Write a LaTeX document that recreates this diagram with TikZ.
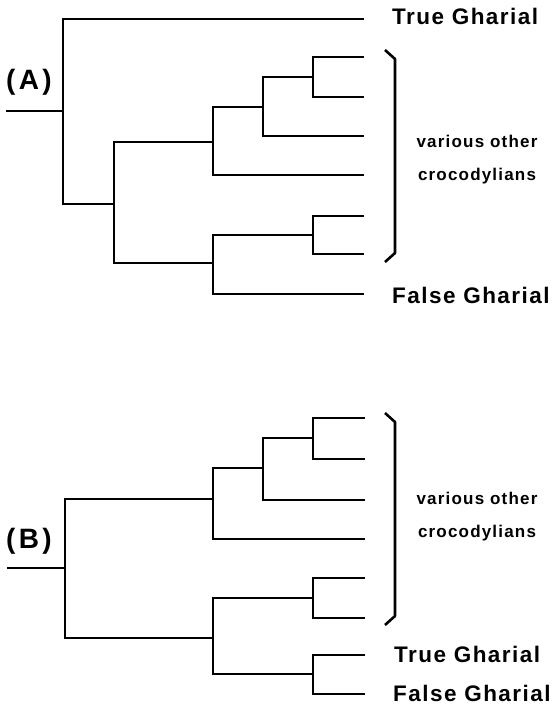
\documentclass[tikz,border=0pt]{standalone}
\usepackage{fontspec}
\setmainfont{Liberation Sans}
\newfontfamily\bigf{Liberation Sans Bold}[LetterSpace=6.5]
\newfontfamily\hugef{Liberation Sans Bold}[LetterSpace=12]
\newfontfamily\smallspaced{Liberation Sans Bold}[LetterSpace=7]
\begin{document}
\begin{tikzpicture}[x=1pt,y=-1pt,
  br/.style={line width=2.5pt, line join=miter},
  brk/.style={line width=2.6pt, line join=round},
  big/.style={inner sep=0pt, font=\bigf\fontsize{22.5}{24}\selectfont},
  small/.style={inner sep=0pt, font=\smallspaced\fontsize{17}{20}\selectfont},
  huge/.style={inner sep=0pt, font=\hugef\fontsize{28}{32}\selectfont}]
\useasboundingbox (0,0) rectangle (552,706);
% ---------- Tree A ----------
\coordinate (rA0) at (6,111);
\coordinate (rA) at (63,111);
\coordinate (aTG) at (364,19);
\coordinate (nA1) at (114,204);
\coordinate (nA2) at (213,142);
\coordinate (nA3) at (263,107);
\coordinate (nA4) at (313,77);
\coordinate (aL1) at (364,57);
\coordinate (aL2) at (364,97);
\coordinate (aL3) at (364,136);
\coordinate (aL4) at (364,175);
\coordinate (nA5) at (213,263);
\coordinate (nA6) at (313,235);
\coordinate (aL5) at (364,216);
\coordinate (aL6) at (364,254);
\coordinate (aFG) at (364,294);
\draw[br] (rA0) -- (rA);
\draw[br] (aTG) -| (rA) |- (nA1);
\draw[br] (nA2) -| (nA1) |- (nA5);
\draw[br] (nA3) -| (nA2) |- (aL4);
\draw[br] (nA4) -| (nA3) |- (aL3);
\draw[br] (aL1) -| (nA4) |- (aL2);
\draw[br] (aL5) -| (nA6) |- (aL6);
\draw[br] (nA6) -| (nA5) |- (aFG);
\draw[brk] (385,50) -- (395,59) -- (395,253) -- (385,262);
\node[huge, anchor=base west] (labA) at (6,90) {(A)};
\node[big, anchor=base west] (tA) at (392,25) {True Gharial};
\node[big, anchor=base west] (fA) at (392,303) {False Gharial};
\node[small, anchor=base] (vA1) at (477,147) {various other};
\node[small, anchor=base] (vA2) at (477,180) {crocodylians};
% ---------- Tree B ----------
\coordinate (rB0) at (7,568);
\coordinate (rB) at (65,568);
\coordinate (nB1) at (213,499);
\coordinate (nB2) at (263,468);
\coordinate (nB3) at (313,438);
\coordinate (bL1) at (365,418);
\coordinate (bL2) at (365,459);
\coordinate (bL3) at (365,500);
\coordinate (bL4) at (365,539);
\coordinate (nB4) at (213,638);
\coordinate (nB5) at (313,598);
\coordinate (bL5) at (365,578);
\coordinate (bL6) at (365,618);
\coordinate (nB6) at (313,674);
\coordinate (bTG) at (365,655);
\coordinate (bFG) at (365,694);
\draw[br] (rB0) -- (rB);
\draw[br] (nB1) -| (rB) |- (nB4);
\draw[br] (nB2) -| (nB1) |- (bL4);
\draw[br] (nB3) -| (nB2) |- (bL3);
\draw[br] (bL1) -| (nB3) |- (bL2);
\draw[br] (nB5) -| (nB4) |- (nB6);
\draw[br] (bL5) -| (nB5) |- (bL6);
\draw[br] (bTG) -| (nB6) |- (bFG);
\draw[brk] (385,413) -- (395,422) -- (395,616) -- (385,625);
\node[huge, anchor=base west] (labB) at (6,548) {(B)};
\node[big, anchor=base west] (tB) at (394,662) {True Gharial};
\node[big, anchor=base west] (fB) at (393,701) {False Gharial};
\node[small, anchor=base] (vB1) at (477,504) {various other};
\node[small, anchor=base] (vB2) at (477,537) {crocodylians};
\end{tikzpicture}
\end{document}
